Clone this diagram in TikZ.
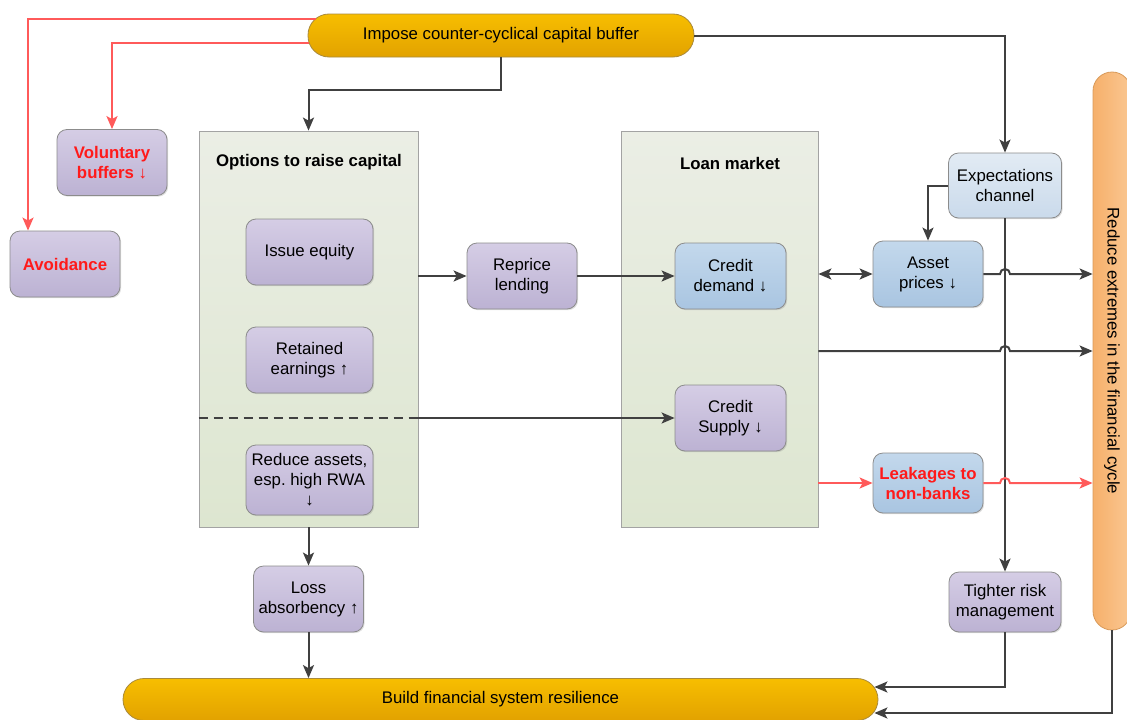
\documentclass[tikz,border=0pt]{standalone}
\usepackage{fontspec}
\setmainfont{Liberation Sans}
\usetikzlibrary{arrows.meta, positioning, calc, shadows}
\definecolor{ccbline}{HTML}{404040}
\definecolor{ccbred}{HTML}{FF5A5A}
\definecolor{ccbredtext}{HTML}{FF1A1A}
\definecolor{ccbedge}{HTML}{8C8C8C}
\definecolor{ccbpurpletop}{HTML}{D5CDE5}
\definecolor{ccbpurplebot}{HTML}{BCB2D3}
\definecolor{ccbbluetop}{HTML}{C3D8EC}
\definecolor{ccbbluebot}{HTML}{A9C5E1}
\definecolor{ccbpaletop}{HTML}{E2EBF4}
\definecolor{ccbpalebot}{HTML}{CADAEB}
\definecolor{ccbgreentop}{HTML}{EBEEE5}
\definecolor{ccbgreenbot}{HTML}{DDE6D0}
\definecolor{ccbgroupedge}{HTML}{A3A3A3}
\definecolor{ccbgoldtop}{HTML}{F7BE00}
\definecolor{ccbgoldbot}{HTML}{E2A200}
\definecolor{ccbgoldedge}{HTML}{A98A3C}
\definecolor{ccborangel}{HTML}{F6B06B}
\definecolor{ccboranger}{HTML}{FAC792}
\definecolor{ccborangeedge}{HTML}{D89A5A}

\begin{document}
\begin{tikzpicture}[x=1pt, y=-1pt,
  font=\fontsize{16.8}{20}\selectfont,
  tip/.tip={Stealth[length=13pt, width=11pt, inset=3pt]},
  conn/.style={-tip, line width=2pt, ccbline},
  redconn/.style={conn, ccbred},
  box/.style={draw=ccbedge, line width=0.8pt, rounded corners=10pt,
    align=center, inner sep=2pt, minimum width=110pt, minimum height=66pt,
    drop shadow={opacity=0.25, shadow xshift=1.2pt, shadow yshift=-1.2pt}},
  purplebox/.style={box, top color=ccbpurpletop, bottom color=ccbpurplebot},
  bluebox/.style={box, top color=ccbbluetop, bottom color=ccbbluebot},
  redtext/.style={text=ccbredtext, font=\fontsize{16.8}{20}\selectfont\bfseries},
  group/.style={draw=ccbgroupedge, line width=0.8pt, top color=ccbgreentop,
    bottom color=ccbgreenbot, inner sep=0pt, minimum height=396pt},
  title/.style={font=\fontsize{16.8}{20}\selectfont\bfseries},
  bar/.style={draw=ccbgoldedge, line width=0.8pt, top color=ccbgoldtop,
    bottom color=ccbgoldbot, rounded corners=21pt, inner sep=0pt,
    minimum height=42pt}
]
  \useasboundingbox (0,0) rectangle (1127,720);

  % Bars
  \node[bar, minimum width=386pt, minimum height=43pt] (imp) at (501, 35.5)
    {Impose counter-cyclical capital buffer};
  \node[bar, minimum width=755pt] (bfr) at (500.5, 699.5)
    {Build financial system resilience};
  \node[draw=ccborangeedge, line width=0.8pt, left color=ccborangel,
    right color=ccboranger, rounded corners=19pt, inner sep=0pt,
    minimum width=38pt, minimum height=558pt] (rb) at (1112, 351)
    {\rotatebox{-90}{Reduce extremes in the financial cycle}};

  % Groups
  \node[group, minimum width=219pt] (opt) at (308.5, 329) {};
  \node[title] (optt) at (309, 162) {Options to raise capital};
  \node[group, minimum width=197pt] (lm) at (719.5, 329) {};
  \node[title] (lmt) at (730, 163) {Loan market};

  % Boxes
  \node[purplebox, redtext] (vol) at (112, 162.5) {Voluntary\\buffers ↓};
  \node[purplebox, redtext] (avd) at (65, 264) {Avoidance};
  \node[purplebox, minimum width=127pt] (ie) at (309.5, 252) {Issue equity};
  \node[purplebox, minimum width=127pt] (re) at (309.5, 360)
    {Retained\\earnings ↑};
  \node[purplebox, minimum width=127pt, minimum height=70pt] (ra)
    at (309.5, 480) {Reduce assets,\\esp.\ high RWA\\↓};
  \node[purplebox] (la) at (308.5, 599) {Loss\\absorbency ↑};
  \node[purplebox] (rp) at (522, 276) {Reprice\\lending};
  \node[bluebox, minimum width=111pt] (cd) at (730.5, 276)
    {Credit\\demand ↓};
  \node[purplebox, minimum width=111pt] (cs) at (730.5, 418)
    {Credit\\Supply ↓};
  \node[box, top color=ccbpaletop, bottom color=ccbpalebot,
    minimum width=113pt, minimum height=65pt] (exp) at (1005, 185.5)
    {Expectations\\channel};
  \node[bluebox] (ap) at (928, 274) {Asset\\prices ↓};
  \node[bluebox, redtext, minimum height=60pt] (lk) at (928, 483)
    {Leakages to\\non-banks};
  \node[purplebox, minimum width=112pt, minimum height=60pt] (trm)
    at (1005, 602) {Tighter risk\\management};

  % Dashed split
  \draw[dashed, line width=1.6pt, ccbline, dash pattern=on 9pt off 6pt]
    (opt.west |- cs.west) -- (opt.east |- cs.west);

  % Red connectors
  \draw[redconn] ($(imp.west)+(8,-16.5)$) -| ($(avd.north)+(-37,0)$);
  \draw[redconn] ($(imp.west)+(1.5,7.5)$) -| (vol.north);

  % Connectors
  \draw[conn] (imp.south) -- ++(0,33) -| (opt.north);
  \draw[conn] (imp.east) -| (exp.north);
  \draw[conn] (exp.west) -| (ap.north);
  \draw[conn] (exp.south) -- (trm.north);
  \draw[conn] (opt.east |- rp.west) -- (rp.west);
  \draw[conn] (rp.east) -- (cd.west);
  \draw[conn] (opt.east |- cs.west) -- (cs.west);
  \draw[conn, tip-tip] (lm.east |- ap.west) -- (ap.west);
  \draw[conn] (ap.east) -- ($(ap.east -| exp.south)+(-5,0)$)
    arc[start angle=180, end angle=0, radius=5pt] -- (ap.east -| rb.west);
  \draw[conn] (lm.east |- rb.west) -- ($(exp.south |- rb.west)+(-5,0)$)
    arc[start angle=180, end angle=0, radius=5pt] -- (rb.west);
  \draw[redconn] (lm.east |- lk.west) -- (lk.west);
  \draw[redconn] (lk.east) -- ($(lk.east -| exp.south)+(-5,0)$)
    arc[start angle=180, end angle=0, radius=5pt] -- (lk.east -| rb.west);
  \draw[conn] (opt.south) -- (la.north);
  \draw[conn] (la.south) -- (la.south |- bfr.north);
  \draw[conn] (trm.south) |- ($(bfr.east)+(-4,-12.5)$);
  \draw[conn] (rb.south) |- ($(bfr.east)+(-4,13.5)$);
\end{tikzpicture}
\end{document}
